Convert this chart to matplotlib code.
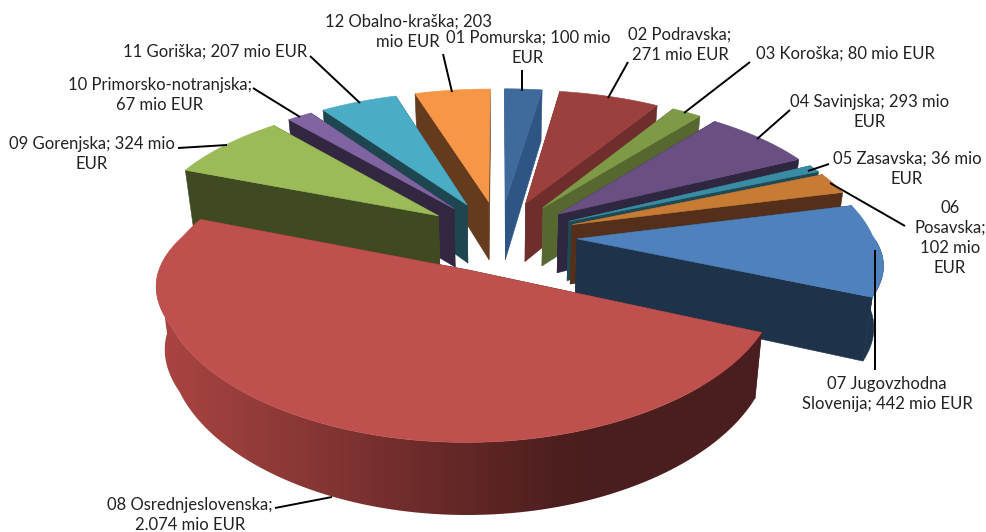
import numpy as np
import matplotlib
matplotlib.use("Agg")
import matplotlib.pyplot as plt
from matplotlib.colors import to_rgb, LinearSegmentedColormap
from matplotlib.patches import Polygon

# ---- data ----
regions = ["01 Pomurska", "02 Podravska", "03 Koroška", "04 Savinjska", "05 Zasavska", "06 Posavska",
           "07 Jugovzhodna Slovenija", "08 Osrednjeslovenska", "09 Gorenjska",
           "10 Primorsko-notranjska", "11 Goriška", "12 Obalno-kraška"]
values = [100, 271, 80, 293, 36, 102, 442, 2074, 324, 67, 207, 203]
label_texts = ["01 Pomurska; 100 mio\nEUR", "02 Podravska;\n271 mio EUR", "03 Koroška; 80 mio EUR",
               "04 Savinjska; 293 mio\nEUR", "05 Zasavska; 36 mio\nEUR", "06\nPosavska;\n102 mio\nEUR",
               "07 Jugovzhodna\nSlovenija; 442 mio EUR", "08 Osrednjeslovenska;\n2.074 mio EUR",
               "09 Gorenjska; 324 mio\nEUR", "10 Primorsko-notranjska;\n67 mio EUR",
               "11 Goriška; 207 mio EUR", "12 Obalno-kraška; 203\nmio EUR"]

# ---- style ----
top_colors = ["#3E6A9C", "#9B403D", "#7F9A47", "#6A5082", "#3A8CA5", "#C87B35",
              "#4F81BD", "#BE504D", "#9BBB59", "#8064A2", "#4BACC6", "#F79646"]
wall_colors = ["#2F5585", "#6F2E2C", "#566830", "#2F2640", "#1C4A55", "#54301A",
               "#1E3249", "#4A1F1E", "#3F4A22", "#322640", "#1D4650", "#663A1C"]
label_pos = [(528, 48), (680, 45), (845, 54), (870, 112), (907, 169), (950, 238),
             (887, 394), (190, 515), (92, 154), (160, 95), (215, 52), (408, 32)]
leaders = [[(522, 70), (522, 91)], [(628, 62), (608, 98)], [(750, 62), (684, 113)],
           [(790, 110), (757, 139)], [(829, 164), (808, 171)], [(905, 226), (830, 183)],
           [(875, 370), (875, 250)], [(275, 508), (332, 497)], [(178, 148), (227, 145)],
           [(253, 88), (300, 117)], [(310, 56), (360, 103)], [(443, 54), (452, 92)]]

# projection parameters (pixels)
CX, CY, RX, RY, K = 500.0, 236.0, 296.0, 137.5, 0.14
EXPLODE, H, BOTTOM_SHRINK = 0.26, 60.0, 0.975


def x_scale(Y):
    if Y <= 0:
        return 1.0 / (1.0 - 0.148 * Y)
    if Y <= 0.6:
        return 1.0 + 0.252 * Y - 0.208 * Y * Y
    return 1.076 + 0.12 * (Y - 0.6)


def top_pt(X, Y):
    s = 1.0 / (1.0 - K * Y)
    return CX + RX * X * x_scale(Y), CY + RY * Y * s


def bot_pt(X, Y):
    s = 1.0 / (1.0 - K * Y)
    x, y = top_pt(X, Y)
    return CX + (x - CX) * BOTTOM_SHRINK, y + H * s


fig = plt.figure(figsize=(9.86, 5.32), dpi=100, facecolor="white")
ax = fig.add_axes([0, 0, 1, 1])

fractions = np.array(values, dtype=float) / sum(values)
ends = np.cumsum(fractions) * 2 * np.pi
starts = ends - fractions * 2 * np.pi
mids = (starts + ends) / 2
order = sorted(range(len(values)), key=lambda i: -np.cos(mids[i]))  # back to front
gradient = LinearSegmentedColormap.from_list(
    "wall08", [(0, "#AB4542"), (0.32, "#8A3836"), (0.62, "#6A2A29"), (0.9, "#4E1F1F"), (1, "#4A1E1E")])

z = 2
for i in order:
    ox, oy = EXPLODE * np.sin(mids[i]), -EXPLODE * np.cos(mids[i])
    n = max(6, int((ends[i] - starts[i]) * 90))
    th = np.linspace(starts[i], ends[i], n)
    X, Y = np.sin(th) + ox, -np.cos(th) + oy

    wall = to_rgb(wall_colors[i])
    faces = sorted([(X[0], Y[0]), (X[-1], Y[-1])], key=lambda p: p[1])
    for c, d in faces:
        poly = [top_pt(ox, oy), top_pt(c, d), bot_pt(c, d), bot_pt(ox, oy)]
        ax.add_patch(Polygon(poly, closed=True, fc=wall, ec=wall, lw=0.4, zorder=z))
        z += 1

    # outer curved wall: only the part that faces the viewer
    keep = -np.cos(th) >= 0
    if keep.sum() >= 2:
        upper = [top_pt(a, b) for a, b in zip(X[keep], Y[keep])]
        lower = [bot_pt(a, b) for a, b in zip(X[keep], Y[keep])]
        outline = upper + lower[::-1]
        if regions[i].startswith("08"):
            patch = Polygon(outline, closed=True, fc="none", ec="none", zorder=z)
            ax.add_patch(patch)
            xs = [p[0] for p in outline]
            ramp = np.linspace(0, 1, 512).reshape(1, -1)
            im = ax.imshow(ramp, extent=(min(xs), 600, 532, 0), cmap=gradient, aspect="auto",
                           zorder=z, interpolation="bilinear")
            im2 = ax.imshow(np.ones((1, 2)), extent=(600, max(xs) + 2, 532, 0), cmap=gradient,
                            vmin=0, vmax=1, aspect="auto", zorder=z)
            im.set_clip_path(patch)
            im2.set_clip_path(patch)
        else:
            ax.add_patch(Polygon(outline, closed=True, fc=wall, ec=wall, lw=0.4, zorder=z))
        z += 1

    outline = [top_pt(ox, oy)] + [top_pt(a, b) for a, b in zip(X, Y)]
    ax.add_patch(Polygon(outline, closed=True, fc=top_colors[i], ec=top_colors[i], lw=0.4, zorder=z))
    z += 1

for seg in leaders:
    xs, ys = zip(*seg)
    ax.plot(xs, ys, color="black", lw=1.4, zorder=z, solid_capstyle="butt")
z += 1

for txt, (x, y) in zip(label_texts, label_pos):
    ax.text(x, y, txt, ha="center", va="center", family="Lato", fontsize=12,
            color="#222222", linespacing=1.3, zorder=z)

ax.set_xlim(0, 986)
ax.set_ylim(532, 0)
ax.set_aspect("auto")
ax.axis("off")
fig.savefig("out.png", dpi=100, facecolor="white")
